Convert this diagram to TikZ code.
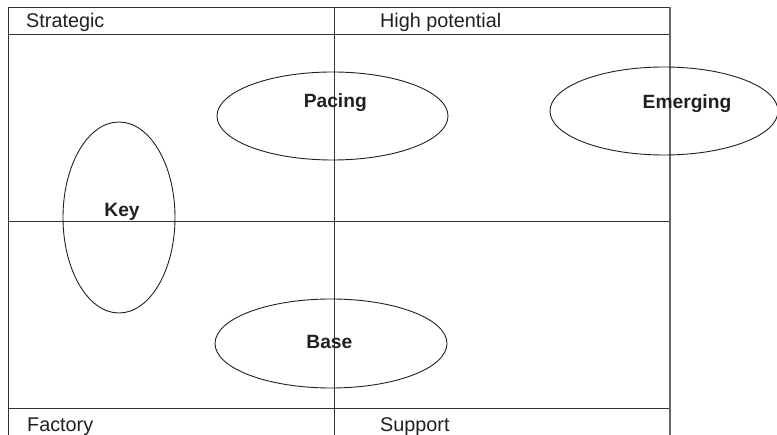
\documentclass[tikz,border=0pt]{standalone}
\usepackage{fontspec}
\setmainfont{Liberation Sans}
\usetikzlibrary{shapes.geometric}
\definecolor{gridc}{HTML}{333333}
\definecolor{edgec}{HTML}{666666}
\definecolor{txt}{HTML}{231F20}
\tikzset{
  gridline/.style={draw=gridc, line width=1pt},
  edgeline/.style={draw=edgec, line width=1.8pt},
  oval/.style={ellipse, draw=txt, line width=0.9pt, inner sep=0pt},
  head/.style={anchor=base west, text=txt, inner sep=0pt, font=\fontsize{19.8}{23}\selectfont},
  lab/.style={anchor=base, text=txt, inner sep=0pt, font=\fontsize{19.2}{22}\selectfont\bfseries}
}
\begin{document}
\begin{tikzpicture}[x=1pt,y=-1pt]
\useasboundingbox (0,0) rectangle (777,435);
% grid
\draw[gridline] (8,8) -- (670,8);
\draw[gridline] (8,35) -- (670,35);
\draw[gridline] (8,222) -- (670,222);
\draw[gridline] (8,409) -- (670,409);
\draw[gridline] (8,8) -- (8,435);
\draw[gridline] (334,8) -- (334,435);
\draw[edgeline] (670,7.5) -- (670,435);
% headers
\node[head] (strategic) at (26,28) {Strategic};
\node[head] (highpot) at (380,28) {High potential};
\node[head] (factory) at (27,432) {Factory};
\node[head] (support) at (380,432) {Support};
% ovals
\node[oval, minimum width=112pt, minimum height=191pt] (keyov) at (119,217.5) {};
\node[oval, minimum width=231pt, minimum height=88pt] (pacingov) at (332.5,116) {};
\node[oval, minimum width=228pt, minimum height=88pt] (emergingov) at (664,111) {};
\node[oval, minimum width=232pt, minimum height=89pt] (baseov) at (331,343.5) {};
% labels
\node[lab] (key) at (122,217) {Key};
\node[lab] (pacing) at (335.3,108) {Pacing};
\node[lab] (emerging) at (687,109) {Emerging};
\node[lab] (base) at (329.4,349) {Base};
\end{tikzpicture}
\end{document}
